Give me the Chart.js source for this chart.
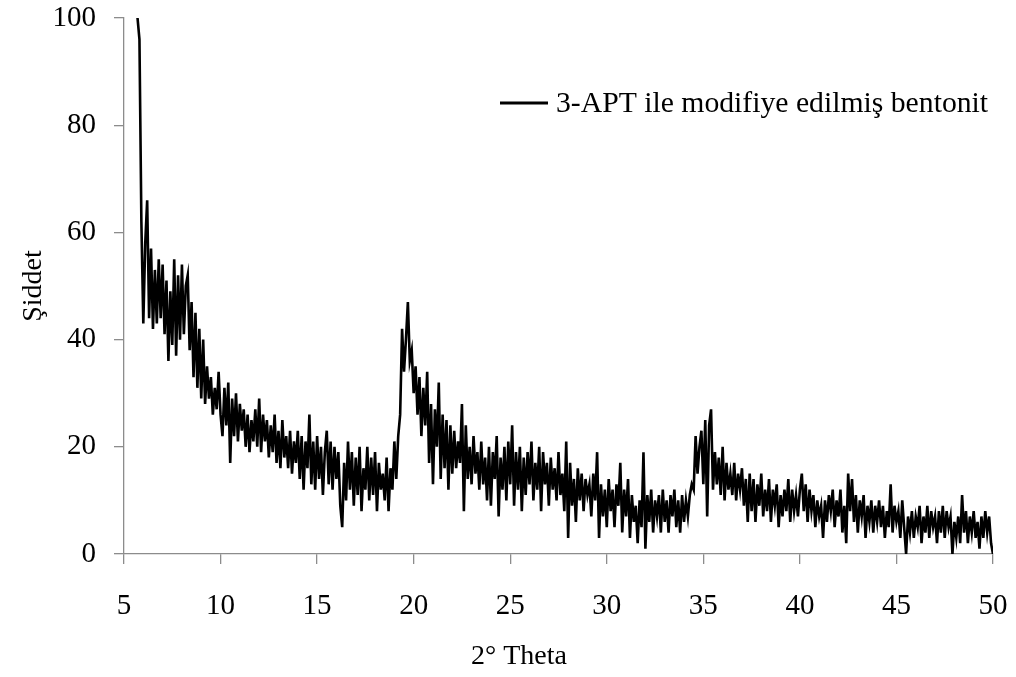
<!DOCTYPE html>
<html>
<head>
<meta charset="utf-8">
<script src="https://cdn.jsdelivr.net/npm/chart.js@4.4.1/dist/chart.umd.min.js"></script>
<style>
  html,body{margin:0;padding:0;background:#fff;}
  #wrap{width:1016px;height:677px;position:relative;}
</style>
</head>
<body>
<div id="wrap"><canvas id="c" width="1016" height="677"></canvas></div>
<script>
const seriesLabel = "3-APT ile modifiye edilmiş bentonit";
const xTitle = "2° Theta";
const yTitle = "Şiddet";
const xTicks = [5,10,15,20,25,30,35,40,45,50];
const yTicks = [0,20,40,60,80,100];

const twoTheta = [
5.7,5.8,5.9,6.0,6.1,6.2,6.3,6.4,6.5,6.6,6.7,6.8,6.9,
7.0,7.1,7.2,7.3,7.4,7.5,7.6,7.7,7.8,7.9,
8.0,8.1,8.2,8.3,8.4,8.5,8.6,8.7,8.8,8.9,
9.0,9.1,9.2,9.3,9.4,9.5,9.6,9.7,9.8,9.9,
10.0,10.1,10.2,10.3,10.4,10.5,10.6,10.7,10.8,10.9,
11.0,11.1,11.2,11.3,11.4,11.5,11.6,11.7,11.8,11.9,
12.0,12.1,12.2,12.3,12.4,12.5,12.6,12.7,12.8,12.9,
13.0,13.1,13.2,13.3,13.4,13.5,13.6,13.7,13.8,13.9,
14.0,14.1,14.2,14.3,14.4,14.5,14.6,14.7,14.8,14.9,
15.0,15.1,15.2,15.3,15.4,15.5,15.6,15.7,15.8,15.9,
16.0,16.1,16.2,16.3,16.4,16.5,16.6,16.7,16.8,16.9,
17.0,17.1,17.2,17.3,17.4,17.5,17.6,17.7,17.8,17.9,
18.0,18.1,18.2,18.3,18.4,18.5,18.6,18.7,18.8,18.9,
19.0,19.1,19.2,19.3,19.4,19.5,19.6,19.7,19.8,19.9,
20.0,20.1,20.2,20.3,20.4,20.5,20.6,20.7,20.8,20.9,
21.0,21.1,21.2,21.3,21.4,21.5,21.6,21.7,21.8,21.9,
22.0,22.1,22.2,22.3,22.4,22.5,22.6,22.7,22.8,22.9,
23.0,23.1,23.2,23.3,23.4,23.5,23.6,23.7,23.8,23.9,
24.0,24.1,24.2,24.3,24.4,24.5,24.6,24.7,24.8,24.9,
25.0,25.1,25.2,25.3,25.4,25.5,25.6,25.7,25.8,25.9,
26.0,26.1,26.2,26.3,26.4,26.5,26.6,26.7,26.8,26.9,
27.0,27.1,27.2,27.3,27.4,27.5,27.6,27.7,27.8,27.9,
28.0,28.1,28.2,28.3,28.4,28.5,28.6,28.7,28.8,28.9,
29.0,29.1,29.2,29.3,29.4,29.5,29.6,29.7,29.8,29.9,
30.0,30.1,30.2,30.3,30.4,30.5,30.6,30.7,30.8,30.9,
31.0,31.1,31.2,31.3,31.4,31.5,31.6,31.7,31.8,31.9,
32.0,32.1,32.2,32.3,32.4,32.5,32.6,32.7,32.8,32.9,
33.0,33.1,33.2,33.3,33.4,33.5,33.6,33.7,33.8,33.9,
34.0,34.1,34.2,34.3,34.4,34.5,34.6,34.7,34.8,34.9,
35.0,35.1,35.2,35.3,35.4,35.5,35.6,35.7,35.8,35.9,
36.0,36.1,36.2,36.3,36.4,36.5,36.6,36.7,36.8,36.9,
37.0,37.1,37.2,37.3,37.4,37.5,37.6,37.7,37.8,37.9,
38.0,38.1,38.2,38.3,38.4,38.5,38.6,38.7,38.8,38.9,
39.0,39.1,39.2,39.3,39.4,39.5,39.6,39.7,39.8,39.9,
40.0,40.1,40.2,40.3,40.4,40.5,40.6,40.7,40.8,40.9,
41.0,41.1,41.2,41.3,41.4,41.5,41.6,41.7,41.8,41.9,
42.0,42.1,42.2,42.3,42.4,42.5,42.6,42.7,42.8,42.9,
43.0,43.1,43.2,43.3,43.4,43.5,43.6,43.7,43.8,43.9,
44.0,44.1,44.2,44.3,44.4,44.5,44.6,44.7,44.8,44.9,
45.0,45.1,45.2,45.3,45.4,45.5,45.6,45.7,45.8,45.9,
46.0,46.1,46.2,46.3,46.4,46.5,46.6,46.7,46.8,46.9,
47.0,47.1,47.2,47.3,47.4,47.5,47.6,47.7,47.8,47.9,
48.0,48.1,48.2,48.3,48.4,48.5,48.6,48.7,48.8,48.9,
49.0,49.1,49.2,49.3,49.4,49.5,49.6,49.7,49.8,49.9,
50.0
];

const intensity = [
100,96,62,43,58,66,44,57,42,53,43,55,44,
54,41,51,36,49,39,55,37,52,40,
54,41,50,52,38,47,33,45,31,42,
29,40,28,35,29,33,26,31,27,34,
26,22,31,24,32,17,29,22,30,21,
28,23,27,20,26,19,25,21,27,20,
29,19,26,21,25,18,24,19,26,17,
23,16,25,18,22,16,23,15,21,17,
23,14,22,12,21,16,26,13,21,12,
22,14,20,11,19,23,13,21,12,20,
14,19,9,5,17,10,21,12,19,9,
18,11,20,8,16,12,20,10,18,11,
19,8,17,12,15,10,18,8,16,12,
21,14,22,26,42,34,40,47,36,38,
30,35,26,33,22,31,24,34,17,28,
13,27,20,32,14,26,16,25,12,24,
15,23,16,21,17,28,8,24,14,20,
13,22,15,19,12,21,13,18,10,20,
9,19,14,22,7,18,12,20,10,21,
13,24,9,19,12,20,8,18,11,19,
13,21,10,17,12,20,8,19,13,17,
9,18,12,16,10,19,11,15,8,21,
3,17,9,14,6,16,10,15,8,14,
11,13,7,15,10,19,3,13,7,12,
5,14,8,12,5,13,9,17,4,12,
7,14,3,11,6,9,2,10,5,19,
1,11,6,12,4,10,7,11,4,12,
6,10,4,11,7,12,5,10,4,11,
6,10,7,11,13,12,22,15,20,23,
13,25,7,24,27,12,19,13,18,11,
20,10,17,12,15,11,17,10,15,12,
16,9,14,6,15,8,14,6,13,9,
15,7,12,8,14,6,12,9,13,5,
11,7,12,8,14,6,12,8,11,7,
12,15,8,13,6,12,8,11,5,10,
7,9,3,10,6,11,8,12,5,10,
7,12,4,9,2,15,8,14,6,11,
4,10,7,11,3,9,6,10,4,9,
6,10,5,9,3,8,5,13,4,9,
6,8,3,10,5,0,7,4,8,3,
7,5,9,2,7,4,9,3,8,5,
7,2,8,4,9,3,8,5,7,0,
6,3,7,2,11,4,8,2,7,4,
8,3,6,1,7,3,8,4,7,2,
0
];

const points = twoTheta.map((t, i) => ({x: t, y: intensity[i]}));

const FONT = "'Liberation Serif', 'Times New Roman', serif";
const AXIS_COLOR = '#8c8c8c';

function zeroPad(s) {
  s.paddingTop = 0; s.paddingBottom = 0; s.paddingLeft = 0; s.paddingRight = 0;
}

const overlayPlugin = {
  id: 'overlayText',
  afterDraw(chart) {
    const ctx = chart.ctx;
    const ds = chart.data.datasets[0];
    ctx.save();
    // legend inside plot
    ctx.strokeStyle = '#000';
    ctx.lineWidth = 3;
    ctx.beginPath();
    ctx.moveTo(500, 103);
    ctx.lineTo(548, 103);
    ctx.stroke();
    ctx.fillStyle = '#000';
    ctx.font = "29.7px " + FONT;
    ctx.textBaseline = 'middle';
    ctx.textAlign = 'left';
    ctx.fillText(ds.label, 556, 104);
    // x axis title
    ctx.font = "28px " + FONT;
    ctx.textAlign = 'center';
    ctx.fillText(xTitle, 519, 657);
    ctx.restore();
  }
};

new Chart(document.getElementById('c'), {
  type: 'line',
  data: {
    datasets: [{
      label: seriesLabel,
      data: points,
      borderColor: '#000',
      borderWidth: 2.6,
      pointRadius: 0,
      tension: 0,
      fill: false
    }]
  },
  options: {
    responsive: false,
    animation: false,
    devicePixelRatio: 1,
    layout: { padding: { left: 0, right: 23, top: 18, bottom: 0 } },
    plugins: { legend: { display: false }, tooltip: { enabled: false } },
    scales: {
      x: {
        type: 'linear',
        min: 5, max: 50,
        afterFit(s) { s.height = 123; zeroPad(s); },
        afterBuildTicks(s) { s.ticks = xTicks.map(v => ({value: v})); },
        border: { color: AXIS_COLOR, width: 1.3 },
        grid: { drawOnChartArea: false, drawTicks: true, tickLength: 10, color: AXIS_COLOR, lineWidth: 1.3 },
        ticks: { color: '#000', font: { family: FONT, size: 29 }, padding: 25, maxRotation: 0 },
        title: { display: false }
      },
      y: {
        type: 'linear',
        min: 0, max: 100,
        afterFit(s) { s.width = 124; zeroPad(s); },
        afterBuildTicks(s) { s.ticks = yTicks.map(v => ({value: v})); },
        border: { color: AXIS_COLOR, width: 1.3 },
        grid: { drawOnChartArea: false, drawTicks: true, tickLength: 10, color: AXIS_COLOR, lineWidth: 1.3 },
        ticks: { color: '#000', font: { family: FONT, size: 29 }, padding: 18 },
        title: { display: true, text: yTitle, color: '#000', font: { family: FONT, size: 28 }, padding: { top: 17, bottom: 0 } }
      }
    }
  },
  plugins: [overlayPlugin]
});
</script>
</body>
</html>
